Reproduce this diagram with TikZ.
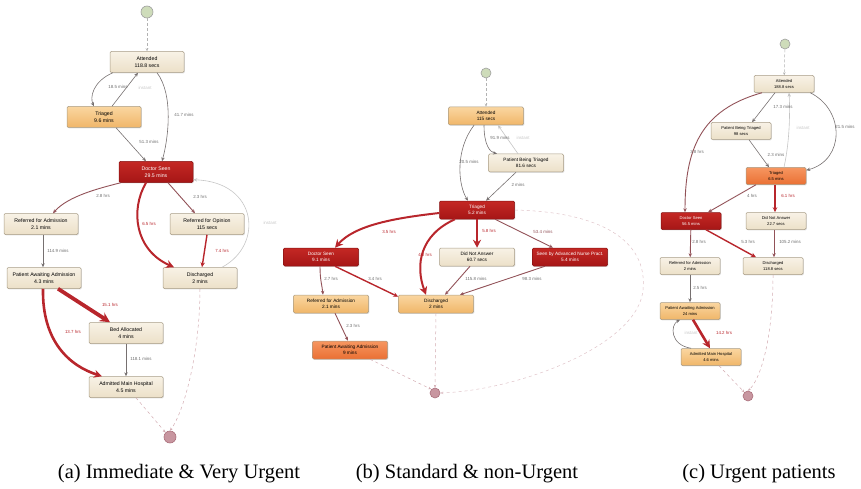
\documentclass[tikz,border=0pt]{standalone}
\usepackage{fontspec}
\setmainfont{Liberation Serif}
\setsansfont{Liberation Sans}
\usetikzlibrary{arrows.meta}
\usetikzlibrary{shadows}

\definecolor{creamtop}{RGB}{248,242,230}
\definecolor{creamfill}{RGB}{236,224,200}
\definecolor{creamline}{RGB}{168,156,134}
\definecolor{peachtop}{RGB}{250,214,160}
\definecolor{peachfill}{RGB}{240,182,105}
\definecolor{embertop}{RGB}{196,40,36}
\definecolor{emberfill}{RGB}{166,22,22}
\definecolor{tangtop}{RGB}{246,150,96}
\definecolor{tangfill}{RGB}{234,112,52}
\definecolor{flowgray}{RGB}{118,112,112}
\definecolor{flowbrown}{RGB}{146,82,88}
\definecolor{flowred}{RGB}{184,38,44}
\definecolor{flowpale}{RGB}{196,196,196}
\definecolor{sinkline}{RGB}{210,170,176}

\begin{document}
\begin{tikzpicture}[
    x=1pt, y=1pt,
    box/.style={
        draw=creamline, rounded corners=1.2pt, line width=0.5pt,
        align=center, inner sep=0pt,
        font=\sffamily\fontsize{5.2}{6.6}\selectfont,
        drop shadow={opacity=0.25, shadow xshift=0.8pt, shadow yshift=-0.8pt}
    },
    boxA/.style={box, minimum width=74pt, minimum height=21pt},
    boxB/.style={box, minimum width=75pt, minimum height=18pt,
        font=\sffamily\fontsize{4.7}{6}\selectfont},
    boxC/.style={box, minimum width=60pt, minimum height=17pt,
        font=\sffamily\fontsize{4.1}{5.4}\selectfont},
    cream/.style={top color=creamtop, bottom color=creamfill},
    peach/.style={top color=peachtop, bottom color=peachfill},
    ember/.style={top color=embertop, bottom color=emberfill,
        draw=emberfill!80!black, text=white},
    tang/.style={top color=tangtop, bottom color=tangfill},
    source/.style={circle, draw=gray!75, line width=0.6pt,
        fill={rgb,255:red,206;green,220;blue,186},
        minimum size=10pt, inner sep=0pt},
    sink/.style={circle, draw={rgb,255:red,170;green,110;blue,122}, line width=0.6pt,
        fill={rgb,255:red,200;green,150;blue,160}, minimum size=10pt, inner sep=0pt},
    flow/.style={-{Stealth[length=4pt,width=3.4pt]}, line width=0.6pt, draw=flowgray},
    brownflow/.style={flow, draw=flowbrown, line width=0.9pt},
    redflow/.style={-{Stealth[length=5pt,width=4.5pt]}, draw=flowred, line width=1.4pt},
    heavyflow/.style={-{Stealth[length=8pt,width=8pt]}, draw=flowred, line width=2.6pt},
    paleflow/.style={flow, draw=flowpale},
    startflow/.style={densely dashed, draw=gray!60, line width=0.5pt,
        -{Stealth[length=3pt,width=2.5pt]}},
    endflow/.style={dashed, draw=sinkline, line width=0.5pt,
        -{Stealth[length=3pt,width=2.5pt]}},
    lbl/.style={font=\sffamily\fontsize{4.4}{5}\selectfont, text=gray!85!black, inner sep=0.5pt},
    redlbl/.style={lbl, text=flowred},
    palelbl/.style={lbl, text=gray!45},
    caption/.style={font=\fontsize{20.5}{24}\selectfont, inner sep=0pt}
]
\useasboundingbox (0,0) rectangle (861,-489);

% ---------- (a) immediate & very urgent ----------
\node[source, minimum size=12pt] (srcA) at (147,-12) {};
\node[boxA, cream] (attA) at (147,-62) {Attended\\118.8 secs};
\node[boxA, peach] (triA) at (104,-117) {Triaged\\9.6 mins};
\node[boxA, ember] (docA) at (156,-172) {Doctor Seen\\29.5 mins};
\node[boxA, cream] (rfaA) at (41,-224) {Referred for Admission\\2.1 mins};
\node[boxA, cream] (rfoA) at (207,-224) {Referred for Opinion\\115 secs};
\node[boxA, cream] (paaA) at (44,-278) {Patient Awaiting Admission\\4.3 mins};
\node[boxA, cream] (disA) at (200,-278) {Discharged\\2 mins};
\node[boxA, cream] (bedA) at (126,-333) {Bed Allocated\\4 mins};
\node[boxA, cream] (admA) at (126,-387) {Admitted Main Hospital\\4.5 mins};
\node[sink, minimum size=12pt] (endA) at (170,-437) {};

\draw[startflow] (srcA) -- (attA);
\draw[flow] ([xshift=3pt]attA.south west) .. controls (92,-82) and (90,-98) .. ([xshift=-10pt]triA.north);
\draw[flow] ([xshift=8pt]triA.north) -- ([xshift=-9pt]attA.south);
\draw[flow] ([xshift=10pt]attA.south) .. controls (174,-95) and (168,-140) .. ([xshift=6pt]docA.north);
\draw[flow] ([xshift=12pt]triA.south) -- ([xshift=-10pt]docA.north);
\draw[brownflow] ([xshift=2pt]docA.south west) .. controls (100,-188) and (68,-196) .. ([xshift=12pt]rfaA.north);
\draw[brownflow] ([xshift=12pt]docA.south) -- ([xshift=-12pt]rfoA.north);
\draw[heavyflow, line width=2pt] ([xshift=-10pt]docA.south) .. controls (130,-210) and (135,-250) .. ([xshift=-26pt]disA.north);
\draw[paleflow, draw=gray!45] ([xshift=22pt]disA.north) .. controls (264,-245) and (258,-182) .. ([yshift=3pt]docA.south east);
\draw[redflow] (rfoA.south) -- ([xshift=2pt]disA.north);
\draw[flow] ([xshift=2pt]rfaA.south) -- ([xshift=-1pt]paaA.north);
\draw[heavyflow, line width=3.8pt, -{Stealth[length=10pt,width=10pt]}] ([xshift=14pt]paaA.south) -- ([xshift=-16pt]bedA.north);
\draw[heavyflow] ([xshift=-1pt]paaA.south) .. controls (42,-342) and (70,-366) .. ([xshift=-24pt]admA.north);
\draw[flow] (bedA) -- (admA);
\draw[endflow] ([xshift=10pt]admA.south) -- (endA.north west);
\draw[endflow] (disA.south) .. controls (200,-350) and (185,-410) .. (endA.north);

\node[lbl] (la1) at (118,-87) {18.5 mins};
\node[palelbl] (la2) at (145,-88) {instant};
\node[lbl] (la3) at (184,-115) {41.7 mins};
\node[lbl] (la4) at (149,-142) {51.3 mins};
\node[lbl] (la5) at (103,-196) {2.8 hrs};
\node[lbl] (la6) at (200,-197) {2.3 hrs};
\node[redlbl] (la7) at (149,-224) {6.5 hrs};
\node[palelbl] (la8) at (270,-223) {instant};
\node[redlbl] (la9) at (222,-251) {7.4 hrs};
\node[lbl] (la10) at (58,-251) {114.9 mins};
\node[redlbl] (la11) at (110,-305) {15.1 hrs};
\node[redlbl] (la12) at (73,-332) {13.7 hrs};
\node[lbl] (la13) at (141,-359) {118.1 mins};

% ---------- (b) standard & non-urgent ----------
\node[source] (srcB) at (486,-73) {};
\node[boxB, peach] (attB) at (486,-116) {Attended\\115 secs};
\node[boxB, cream] (pbtB) at (526,-163) {Patient Being Triaged\\81.6 secs};
\node[boxB, ember] (triB) at (477,-210) {Triaged\\5.2 mins};
\node[boxB, ember] (docB) at (321,-257) {Doctor Seen\\9.1 mins};
\node[boxB, cream] (dnaB) at (477,-257) {Did Not Answer\\60.7 secs};
\node[boxB, ember] (anpB) at (570,-257) {Seen by Advanced Nurse Pract.\\5.4 mins};
\node[boxB, peach] (rfaB) at (331,-304) {Referred for Admission\\2.1 mins};
\node[boxB, peach] (disB) at (436,-304) {Discharged\\2 mins};
\node[boxB, tang] (paaB) at (350,-350) {Patient Awaiting Admission\\9 mins};
\node[sink] (endB) at (435,-393) {};

\draw[startflow] (srcB) -- (attB);
\draw[flow] ([xshift=-2pt]attB.south) .. controls (484,-145) and (490,-152) .. ([xshift=-29pt]pbtB.north);
\draw[paleflow] ([xshift=-8pt]pbtB.north) -- ([xshift=12pt]attB.south);
\draw[flow] ([xshift=-12pt]attB.south) .. controls (455,-150) and (458,-185) .. ([xshift=-9pt]triB.north);
\draw[flow] ([xshift=-10pt]pbtB.south) -- ([xshift=9pt]triB.north);
\draw[heavyflow, line width=2pt] ([yshift=-3pt]triB.west) .. controls (395,-218) and (355,-225) .. ([xshift=14pt]docB.north);
\draw[heavyflow, line width=2pt] ([xshift=-22pt]triB.south) .. controls (420,-235) and (415,-265) .. ([xshift=-10pt]disB.north);
\draw[heavyflow] (triB) -- (dnaB);
\draw[brownflow] ([xshift=18pt]triB.south) -- ([xshift=-17pt]anpB.north);
\draw[endflow, draw=sinkline!70] (triB.east) .. controls (600,-212) and (648,-240) .. (643,-290)
    .. controls (638,-345) and (520,-390) .. (endB.east);
\draw[brownflow] ([xshift=-1pt]docB.south) .. controls (320,-280) and (322,-285) .. ([xshift=-8pt]rfaB.north);
\draw[redflow] ([xshift=14pt]docB.south) -- ([yshift=-2pt]disB.north west);
\draw[brownflow] ([xshift=-7pt]dnaB.south) -- ([xshift=9pt]disB.north);
\draw[brownflow] ([xshift=-25pt]anpB.south) -- ([xshift=24pt]disB.north);
\draw[brownflow] ([xshift=4pt]rfaB.south) -- ([xshift=-2pt]paaB.north);
\draw[endflow] (disB.south) -- (endB.north);
\draw[endflow] ([xshift=20pt]paaB.south) -- (endB.north west);

\node[lbl] (lb1) at (500,-138) {91.9 mins};
\node[palelbl] (lb2) at (523,-138) {instant};
\node[lbl] (lb3) at (469,-162) {20.5 mins};
\node[lbl] (lb4) at (518,-185) {2 mins};
\node[redlbl] (lb5) at (389,-232) {3.5 hrs};
\node[redlbl] (lb6) at (425,-255) {4.8 hrs};
\node[redlbl] (lb7) at (489,-231) {5.8 hrs};
\node[lbl, text=flowbrown] (lb8) at (543,-232) {53.4 mins};
\node[lbl] (lb9) at (331,-279) {2.7 hrs};
\node[lbl] (lb10) at (375,-279) {3.4 hrs};
\node[lbl] (lb11) at (476,-279) {115.8 mins};
\node[lbl] (lb12) at (532,-279) {98.3 mins};
\node[lbl] (lb13) at (353,-326) {2.3 hrs};

% ---------- (c) urgent ----------
\node[source] (srcC) at (785,-44) {};
\node[boxC, cream] (attC) at (784,-84) {Attended\\188.8 secs};
\node[boxC, cream] (pbtC) at (741,-131) {Patient Being Triaged\\98 secs};
\node[boxC, tang] (triC) at (776,-176) {Triaged\\6.5 mins};
\node[boxC, ember] (docC) at (691,-221) {Doctor Seen\\56.5 mins};
\node[boxC, cream] (dnaC) at (776,-221) {Did Not Answer\\22.7 secs};
\node[boxC, cream] (rfaC) at (690,-266) {Referred for Admission\\2 mins};
\node[boxC, cream] (disC) at (773,-266) {Discharged\\118.8 secs};
\node[boxC, peach] (paaC) at (690,-311) {Patient Awaiting Admission\\24 mins};
\node[boxC, peach] (admC) at (711,-357) {Admitted Main Hospital\\4.6 mins};
\node[sink] (endC) at (748,-396) {};

\draw[startflow] (srcC) -- (attC);
\draw[flow] ([xshift=-9pt]attC.south) -- ([xshift=11pt]pbtC.north);
\draw[brownflow] ([xshift=-22pt]attC.south) .. controls (700,-110) and (685,-150) .. ([xshift=-6pt]docC.north);
\draw[flow] ([xshift=-4pt]attC.south east) .. controls (845,-110) and (845,-160) .. ([yshift=-3pt]triC.north east);
\draw[flow] ([xshift=8pt]pbtC.south) -- ([xshift=-7pt]triC.north);
\draw[paleflow] ([xshift=8pt]triC.north) .. controls (790,-140) and (790,-110) .. ([xshift=5pt]attC.south);
\draw[brownflow] ([xshift=-20pt]triC.south) -- ([xshift=17pt]docC.north);
\draw[redflow] ([xshift=-1pt]triC.south) -- ([xshift=-1pt]dnaC.north);
\draw[brownflow] (docC) -- (rfaC);
\draw[redflow] ([xshift=15pt]docC.south) -- ([xshift=-17pt]disC.north);
\draw[brownflow] ([xshift=-2pt]dnaC.south) -- ([xshift=1pt]disC.north);
\draw[flow] (rfaC) -- (paaC);
\draw[heavyflow] ([xshift=3pt]paaC.south) -- ([xshift=-1pt]admC.north);
\draw[flow] ([xshift=-20pt]admC.north) .. controls (670,-345) and (670,-325) .. ([xshift=-10pt]paaC.south);
\draw[endflow] ([xshift=8pt]admC.south) -- (endC.north west);
\draw[endflow] (disC.south) .. controls (773,-340) and (760,-380) .. (endC.north);

\node[lbl] (lc1) at (783,-107) {17.3 mins};
\node[lbl] (lc2) at (697,-152) {3.8 hrs};
\node[lbl] (lc3) at (845,-127) {21.5 mins};
\node[palelbl] (lc4) at (803,-128) {instant};
\node[lbl] (lc5) at (776,-155) {2.3 mins};
\node[lbl] (lc6) at (752,-196) {4 hrs};
\node[redlbl] (lc7) at (788,-196) {6.1 hrs};
\node[lbl] (lc8) at (699,-242) {2.8 hrs};
\node[lbl] (lc9) at (748,-242) {5.3 hrs};
\node[lbl] (lc10) at (790,-242) {105.2 mins};
\node[lbl] (lc11) at (700,-288) {2.5 hrs};
\node[redlbl] (lc12) at (724,-333) {14.2 hrs};
\node[palelbl] (lc13) at (691,-333) {instant};

% captions
\node[caption] (capA) at (179,-474) {(a) Immediate \& Very Urgent};
\node[caption] (capB) at (467,-474) {(b) Standard \& non-Urgent};
\node[caption] (capC) at (759,-474) {(c) Urgent patients};
\end{tikzpicture}
\end{document}
